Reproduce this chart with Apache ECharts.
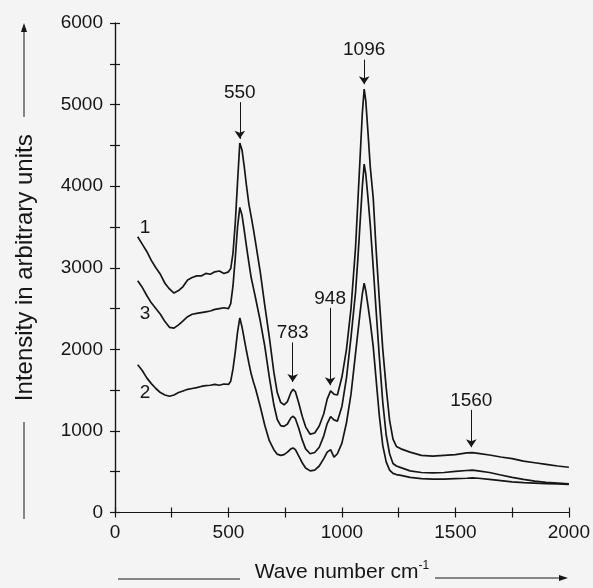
<!DOCTYPE html>
<html>
<head>
<meta charset="UTF-8">
<title>Raman spectra</title>
<script src="https://cdn.jsdelivr.net/npm/echarts@6/dist/echarts.min.js"></script>
<style>
    html, body { margin: 0; padding: 0; background: #f4f4f4; }
    #main { width: 593px; height: 588px; }
</style>
</head>
<body>
<div id="main"></div>
<script>
// wave numbers (cm-1) shared by the three spectra
var waveNumbers = [100,120,140,160,180,200,220,240,260,280,300,320,340,360,380,400,420,440,460,480,
    500,510,520,530,540,550,560,570,580,590,600,610,620,640,660,680,700,715,730,745,760,775,785,795,
    810,825,840,860,880,900,920,935,950,965,980,1000,1020,1040,1060,1070,1080,1090,1098,1105,1115,
    1125,1138,1150,1165,1180,1195,1210,1225,1240,1260,1300,1350,1400,1450,1500,1550,1575,1600,1650,
    1700,1750,1800,1850,1900,1950,2000];

var curve1 = [3380,3290,3200,3090,3000,2920,2810,2740,2690,2720,2770,2850,2880,2900,2900,2930,2920,2950,2960,2930,
    2950,2990,3180,3550,4050,4530,4440,4230,3990,3780,3630,3470,3300,2950,2540,2150,1720,1470,1350,1320,1360,1470,1510,1480,
    1340,1180,1050,960,975,1060,1210,1390,1490,1450,1440,1660,2000,2500,3250,3800,4350,4900,5190,5050,4650,
    4230,3850,3250,2600,2000,1530,1130,900,810,780,740,700,690,700,710,730,735,725,705,
    680,660,630,610,590,570,555];

var curve2 = [1810,1740,1650,1580,1520,1470,1440,1425,1440,1470,1490,1510,1520,1530,1545,1555,1560,1570,1560,1575,
    1570,1610,1760,1970,2210,2385,2270,2120,1970,1830,1700,1600,1510,1300,1070,880,770,715,700,710,740,780,790,770,
    690,610,545,510,520,570,660,740,770,680,720,850,1100,1450,1950,2200,2450,2680,2810,2720,2530,
    2330,2030,1650,1180,820,620,520,480,465,455,430,415,410,410,415,420,425,420,405,
    390,375,365,360,355,350,345];

var curve3 = [2840,2760,2660,2570,2500,2430,2340,2270,2260,2300,2350,2400,2430,2440,2450,2460,2470,2490,2500,2510,
    2500,2560,2780,3120,3500,3740,3640,3450,3250,3060,2880,2750,2620,2350,2040,1660,1320,1140,1065,1055,1085,1160,1180,1150,
    1030,890,780,720,735,800,940,1090,1175,1135,1120,1300,1650,2150,2700,3100,3550,4000,4270,4150,3850,
    3520,3000,2500,1900,1350,950,720,600,570,550,510,490,485,490,505,515,520,510,490,
    460,430,405,385,370,360,350];

// peak annotations
var peakNames = ['550', '783', '948', '1096', '1560'];
var peakX = [550, 783, 948, 1098, 1570];
var arrowFrom = [5030, 2084, 2508, 5551, 1258];
var arrowTo = [4580, 1600, 1560, 5250, 800];

// curve numbers
var curveNames = ['1', '3', '2'];
var curveNameX = [132, 132, 132];
var curveNameY = [3495, 2431, 1463];

function pairs(xs, ys) {
    return xs.map(function (x, i) { return [x, ys[i]]; });
}

var font = 'Liberation Sans, Arial, sans-serif';
var ink = '#161616';

var dom = document.getElementById('main');
var myChart = echarts.init(dom);

var axisLine = { lineStyle: { color: ink, width: 1.2 } };
var axisTick = { inside: false, length: 5, lineStyle: { color: ink, width: 1.2 } };

var lineSeries = function (name, ys) {
    return {
        name: name,
        type: 'line',
        data: pairs(waveNumbers, ys),
        showSymbol: false,
        smooth: false,
        lineStyle: { color: ink, width: 1.7 },
        silent: true,
        z: 3
    };
};

var option = {
    backgroundColor: '#f4f4f4',
    animation: false,
    textStyle: { fontFamily: font },
    grid: { left: 115, right: 23, top: 23, bottom: 69 },
    xAxis: [
        {
            type: 'value', min: 0, max: 2000, interval: 250,
            axisLine: axisLine, axisTick: axisTick, splitLine: { show: false },
            axisLabel: {
                color: ink, fontSize: 19, margin: 11, fontFamily: font,
                formatter: function (v) { return v % 500 === 0 ? String(v) : ''; }
            },
            name: '{a|Wave number cm}{b|-1}',
            nameLocation: 'middle',
            nameGap: 47,
            nameTextStyle: {
                rich: {
                    a: { fontSize: 21, color: ink, fontFamily: font },
                    b: { fontSize: 12, color: ink, fontFamily: font, padding: [0, 0, 14, 0] }
                }
            }
        },
        {
            type: 'value', min: 0, max: 2000, interval: 250, position: 'top',
            axisLine: axisLine, axisTick: axisTick, splitLine: { show: false },
            axisLabel: { show: false }
        }
    ],
    yAxis: [
        {
            type: 'value', min: 0, max: 6000, interval: 500,
            axisLine: { show: true, lineStyle: axisLine.lineStyle }, axisTick: axisTick,
            splitLine: { show: false },
            axisLabel: {
                color: ink, fontSize: 19, margin: 12, fontFamily: font,
                formatter: function (v) { return v % 1000 === 0 ? String(v) : ''; }
            },
            name: 'Intensity in arbitrary units',
            nameLocation: 'middle',
            nameGap: 78,
            nameTextStyle: { fontSize: 24, color: ink, fontFamily: font }
        },
        {
            type: 'value', min: 0, max: 6000, interval: 500, position: 'right',
            axisLine: { show: true, lineStyle: axisLine.lineStyle }, axisTick: axisTick,
            splitLine: { show: false }, axisLabel: { show: false }
        }
    ],
    graphic: [
        // decorative lines and arrows around the axis titles
        { type: 'line', shape: { x1: 24, y1: 117, x2: 24, y2: 30 }, style: { stroke: ink, lineWidth: 1 } },
        { type: 'polygon', shape: { points: [[24, 23], [21, 32], [27, 32]] }, style: { fill: ink } },
        { type: 'line', shape: { x1: 24, y1: 422, x2: 24, y2: 519 }, style: { stroke: ink, lineWidth: 1 } },
        { type: 'line', shape: { x1: 118, y1: 579, x2: 240, y2: 579 }, style: { stroke: ink, lineWidth: 1 } },
        { type: 'line', shape: { x1: 435, y1: 578, x2: 561, y2: 578 }, style: { stroke: ink, lineWidth: 1 } },
        { type: 'polygon', shape: { points: [[568, 578], [559, 575], [559, 581]] }, style: { fill: ink } }
    ],
    series: [
        (function () {
            var s = lineSeries('1', curve1);
            s.markLine = {
                silent: true,
                symbol: ['none', 'arrow'],
                symbolSize: 8,
                lineStyle: { color: ink, width: 1, type: 'solid' },
                label: {
                    show: true, position: 'start', distance: 0,
                    formatter: '{b}', color: ink, fontSize: 19, fontFamily: font
                },
                data: peakX.map(function (x, i) {
                    return [
                        { coord: [x, arrowFrom[i]], name: peakNames[i] },
                        { coord: [x, arrowTo[i]] }
                    ];
                })
            };
            return s;
        })(),
        lineSeries('2', curve2),
        lineSeries('3', curve3),
        {
            type: 'scatter',
            symbol: 'circle',
            symbolSize: 1,
            itemStyle: { color: 'rgba(0,0,0,0)', opacity: 1 },
            silent: true,
            z: 4,
            data: curveNames.map(function (n, i) {
                return { name: n, value: [curveNameX[i], curveNameY[i]] };
            }),
            label: {
                show: true, position: 'top', distance: 0, offset: [0, 10],
                formatter: '{b}', color: ink, fontSize: 19, fontFamily: font,
                textBorderWidth: 0, opacity: 1
            }
        }
    ]
};

myChart.setOption(option, true);
</script>
</body>
</html>
